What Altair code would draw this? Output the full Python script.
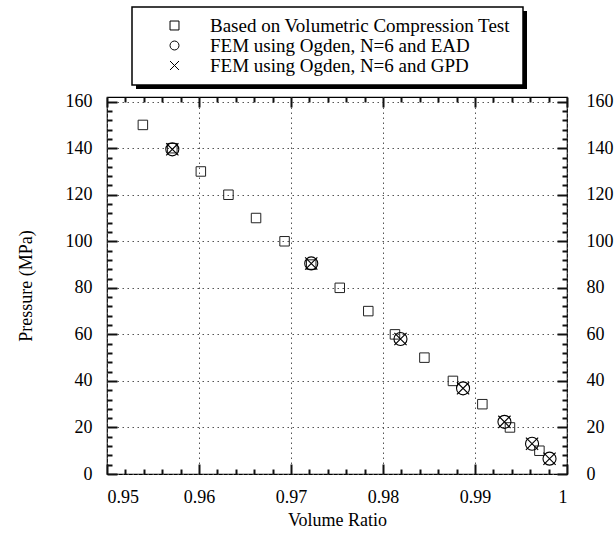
import altair as alt
import pandas as pd

# ---- data ----
series_names = [
    "Based on Volumetric Compression Test",
    "FEM using Ogden, N=6 and EAD",
    "FEM using Ogden, N=6 and GPD",
]
test_ratio = [0.9539, 0.9571, 0.9602, 0.9632, 0.9662, 0.9693, 0.9722, 0.9753,
              0.9784, 0.9813, 0.9845, 0.9876, 0.9908, 0.9938, 0.9970]
test_pressure = [150, 140, 130, 120, 110, 100, 90, 80, 70, 60, 50, 40, 30, 20, 10]

ead_ratio = [0.9571, 0.9722, 0.9819, 0.9887, 0.9932, 0.9962, 0.9981]
ead_pressure = [139.5, 90.5, 58.0, 36.8, 22.4, 13.0, 6.6]

gpd_ratio = [0.9571, 0.9722, 0.9819, 0.9887, 0.9932, 0.9962, 0.9981]
gpd_pressure = [139.5, 90.5, 58.0, 36.8, 22.4, 13.0, 6.6]

x_major = [0.95, 0.96, 0.97, 0.98, 0.99, 1.0]
y_major = [0, 20, 40, 60, 80, 100, 120, 140, 160]
x_minor = [0.952, 0.954, 0.956, 0.958, 0.962, 0.964, 0.966, 0.968,
           0.972, 0.974, 0.976, 0.978, 0.982, 0.984, 0.986, 0.988,
           0.992, 0.994, 0.996, 0.998]
y_minor = [4, 8, 12, 16, 24, 28, 32, 36, 44, 48, 52, 56, 64, 68, 72, 76,
           84, 88, 92, 96, 104, 108, 112, 116, 124, 128, 132, 136,
           144, 148, 152, 156]

df = pd.concat([
    pd.DataFrame({"ratio": test_ratio, "pressure": test_pressure, "series": series_names[0]}),
    pd.DataFrame({"ratio": ead_ratio, "pressure": ead_pressure, "series": series_names[1]}),
    pd.DataFrame({"ratio": gpd_ratio, "pressure": gpd_pressure, "series": series_names[2]}),
], ignore_index=True)

W, H = 460, 377
FONT = "Liberation Serif"
XPATH = "M-1,-1L1,1M-1,1L1,-1"
MAJOR_LEN, MINOR_LEN = 10, 5
MAJOR = {"expr": f"-{MAJOR_LEN}"}   # negative length -> ticks point into the plot
MINOR = {"expr": f"-{MINOR_LEN}"}
TICK_W = 2
TICK_C = "#111111"

xs = alt.Scale(domain=[0.95, 1.0], nice=False, zero=False)
ys = alt.Scale(domain=[0, 162], nice=False, zero=False)
shape_scale = alt.Scale(domain=series_names, range=["square", "circle", XPATH])

legend = alt.Legend(
    orient="none", legendX=58, legendY=-81, title=None, padding=0,
    labelFont=FONT, labelFontSize=19, labelColor="black", labelOffset=26,
    labelLimit=500, rowPadding=-5, symbolSize=80,
    symbolStrokeWidth=1, symbolStrokeColor="black", symbolFillColor="transparent",
)

grid_dash = [1.5, 3.5]

x_label_axis = alt.Axis(
    orient="bottom", values=x_major, format=".2~f", grid=True, gridColor="#555",
    gridDash=grid_dash, gridWidth=1, ticks=True, tickSize=MAJOR, tickColor=TICK_C,
    tickWidth=TICK_W, domain=False, labelPadding=14 + MAJOR_LEN,
    title="Volume Ratio", titlePadding=5,
)
y_label_axis = alt.Axis(
    orient="left", values=y_major, format="d", grid=True, gridColor="#555",
    gridDash=grid_dash, gridWidth=1, ticks=True, tickSize=MAJOR, tickColor=TICK_C,
    tickWidth=TICK_W, domain=False, labelPadding=15 + MAJOR_LEN,
    title="Pressure (MPa)", titlePadding=30,
)
y_right_labels = alt.Axis(
    orient="right", values=y_major, format="d", grid=False, ticks=True,
    tickSize=MAJOR, tickColor=TICK_C, tickWidth=TICK_W, domain=False,
    labelPadding=19 + MAJOR_LEN, title=None,
)


def tick_axis(orient, values, size):
    return alt.Axis(
        orient=orient, values=values, labels=False, domain=False,
        grid=False, ticks=True, tickColor=TICK_C, tickWidth=TICK_W,
        tickSize=size, title=None,
    )


base = alt.Chart(df)
sq_data = base.transform_filter(alt.datum.series == series_names[0])

squares = sq_data.mark_point(
    filled=False, color="#222", strokeWidth=1, size=90, opacity=1
).encode(
    x=alt.X("ratio:Q", scale=xs, axis=x_label_axis),
    y=alt.Y("pressure:Q", scale=ys, axis=y_label_axis),
    shape=alt.Shape("series:N", scale=shape_scale, legend=legend),
)

circles = base.transform_filter(alt.datum.series == series_names[1]).mark_point(
    filled=False, color="black", strokeWidth=1.1, size=170, opacity=1
).encode(
    x=alt.X("ratio:Q", scale=xs, axis=tick_axis("bottom", x_minor, MINOR)),
    y=alt.Y("pressure:Q", scale=ys, axis=y_right_labels),
    shape=alt.Shape("series:N", scale=shape_scale, legend=legend),
)

crosses = base.transform_filter(alt.datum.series == series_names[2]).mark_point(
    filled=False, color="black", strokeWidth=1.1, size=150, opacity=1
).encode(
    x=alt.X("ratio:Q", scale=xs, axis=tick_axis("top", x_major, MAJOR)),
    y=alt.Y("pressure:Q", scale=ys, axis=tick_axis("left", y_minor, MINOR)),
    shape=alt.Shape("series:N", scale=shape_scale, legend=legend),
)

inv = sq_data.mark_point(opacity=0).encode(
    x=alt.X("ratio:Q", scale=xs, axis=tick_axis("top", x_minor, MINOR)),
    y=alt.Y("pressure:Q", scale=ys, axis=tick_axis("right", y_minor, MINOR)),
)

box_df = pd.DataFrame({"k": [0]})
shadow = alt.Chart(box_df).mark_rect(color="black").encode(
    x=alt.value(29), x2=alt.value(420), y=alt.value(-86), y2=alt.value(-8)
)
box = alt.Chart(box_df).mark_rect(fill="white", stroke="black", strokeWidth=1.5).encode(
    x=alt.value(25), x2=alt.value(416), y=alt.value(-90), y2=alt.value(-12)
)

chart = alt.layer(
    shadow, box, squares, circles, crosses, inv
).resolve_axis(
    x="independent", y="independent"
).properties(
    width=W, height=H,
    padding={"left": 107, "top": 97, "right": 49, "bottom": 65},
    autosize=alt.AutoSizeParams(type="none"),
    background="white",
).configure_view(
    stroke="black", strokeWidth=1.2
).configure_axis(
    labelFont=FONT, titleFont=FONT, labelFontSize=18, titleFontSize=18,
    labelColor="black", titleColor="black", titleFontWeight="normal",
)

chart.save("out.html", embed_options={"renderer": "svg", "actions": False})
